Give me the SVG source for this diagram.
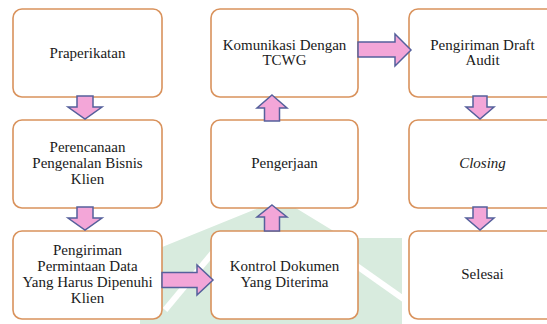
<svg xmlns="http://www.w3.org/2000/svg" width="547" height="324" viewBox="0 0 547 324">
<style>
.box{fill:#ffffff;stroke:#d9925c;stroke-width:1.6}
.t{font-family:"Liberation Serif","Times New Roman",serif;font-size:15px;fill:#1a1a1a;text-anchor:middle}
.arr{fill:#f3a6d8;stroke:#56609c;stroke-width:1.5;stroke-linejoin:miter}
.wm{fill:#d8ebde}
.wml{stroke:#ffffff;stroke-width:6;fill:none}
</style>
<rect width="547" height="324" fill="#ffffff"/>
<g id="watermark">
<polygon class="wm" points="281,199 140,256 140,324 402,324 402,238 345,238"/>
<line class="wml" x1="165" y1="310" x2="215" y2="250"/>
<line class="wml" x1="320" y1="240" x2="405" y2="300"/>
</g>
<g id="n1"><rect class="box" x="13" y="9" width="149" height="88" rx="9"/><text class="t" x="87.5" y="58">Praperikatan</text></g>
<g id="n2"><rect class="box" x="13" y="120" width="149" height="88" rx="9"/><text class="t" x="87.5" y="152">Perencanaan</text><text class="t" x="87.5" y="168">Pengenalan Bisnis</text><text class="t" x="87.5" y="184">Klien</text></g>
<g id="n3"><rect class="box" x="13" y="231" width="149" height="88" rx="9"/><text class="t" x="87.5" y="255">Pengiriman</text><text class="t" x="87.5" y="271">Permintaan Data</text><text class="t" x="87.5" y="287">Yang Harus Dipenuhi</text><text class="t" x="87.5" y="303">Klien</text></g>
<g id="n4"><rect class="box" x="211" y="231" width="147" height="88" rx="9"/><text class="t" x="284.5" y="271">Kontrol Dokumen</text><text class="t" x="284.5" y="287">Yang Diterima</text></g>
<g id="n5"><rect class="box" x="211" y="120" width="147" height="88" rx="9"/><text class="t" x="284.5" y="168">Pengerjaan</text></g>
<g id="n6"><rect class="box" x="211" y="9" width="147" height="88" rx="9"/><text class="t" x="284.5" y="50">Komunikasi Dengan</text><text class="t" x="284.5" y="65">TCWG</text></g>
<g id="n7"><rect class="box" x="409" y="9" width="147" height="88" rx="9"/><text class="t" x="482.5" y="50">Pengiriman Draft</text><text class="t" x="482.5" y="65">Audit</text></g>
<g id="n8"><rect class="box" x="409" y="120" width="147" height="88" rx="9"/><text class="t" x="482.5" y="168" font-style="italic">Closing</text></g>
<g id="n9"><rect class="box" x="409" y="231" width="147" height="88" rx="9"/><text class="t" x="482.5" y="279">Selesai</text></g>
<g id="connectors">
<polygon class="arr" points="77,96 93,96 93,107 102,107 85,119 68,107 77,107"/>
<polygon class="arr" points="77,207 93,207 93,218 102,218 85,230 68,218 77,218"/>
<polygon class="arr" points="162,272.5 197,272.5 197,265 213,280 197,295 197,287.5 162,287.5"/>
<polygon class="arr" points="272,205 287,217 279.5,217 279.5,231 264.5,231 264.5,217 257,217"/>
<polygon class="arr" points="272,95 287,108 279.5,108 279.5,121 264.5,121 264.5,108 257,108"/>
<polygon class="arr" points="358,42 395,42 395,34 411,50 395,66 395,57 358,57"/>
<polygon class="arr" points="473,96 487,96 487,107 494,107 480,119 466,107 473,107"/>
<polygon class="arr" points="473,207 487,207 487,218 494,218 480,230 466,218 473,218"/>
</g>
</svg>
